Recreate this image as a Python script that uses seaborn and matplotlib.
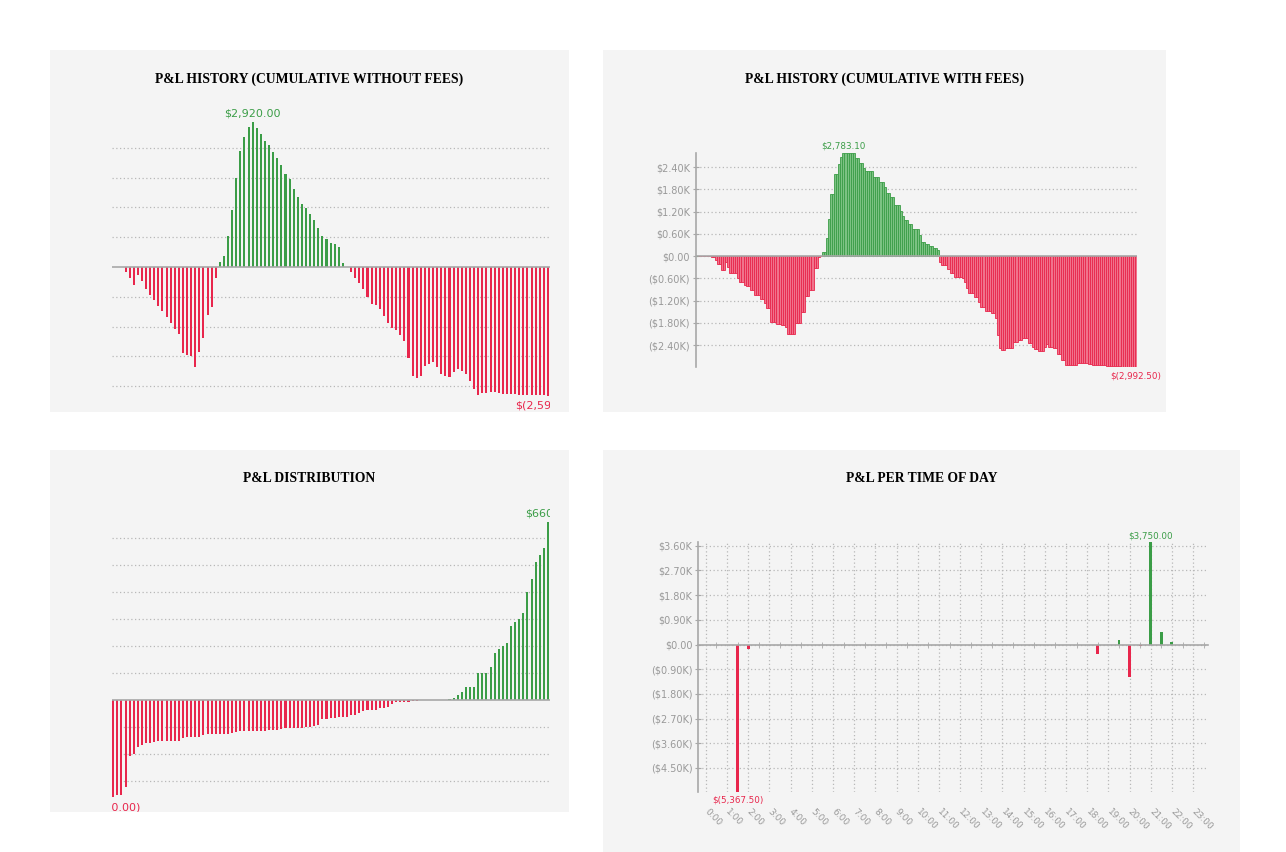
import numpy as np
import pandas as pd
import seaborn as sns
import matplotlib
matplotlib.use("Agg")
import matplotlib.pyplot as plt
from matplotlib.patches import Rectangle
from matplotlib.ticker import FuncFormatter

# cumulative P&L per trade, without fees
pnl_cum_no_fees = [
    0, 0, 0, -100, -215, -355, -155, -280, -435, -563, -670, -777, -891,
    -1012, -1119, -1240, -1353, -1722, -1769, -1802, -2010, -1715, -1427,
    -972, -797, -228,
    94, 221, 623, 1139, 1796, 2332, 2613, 2827, 2920, 2807, 2680, 2539,
    2466, 2318, 2198, 2057, 1883, 1782, 1575, 1414, 1273, 1179, 1059, 945,
    791, 623, 556, 489, 456, 402, 80,
    -5,
    -100, -215, -315, -449, -603, -750, -770, -851, -985, -1119, -1219,
    -1266, -1373, -1487, -1836, -2191, -2244, -2191, -2003, -1956, -1909,
    -2023, -2157, -2191, -2224, -2124, -2057, -2090, -2164, -2305, -2459,
    -2580, -2546, -2539, -2526, -2526, -2539, -2566, -2566, -2566, -2566,
    -2580, -2586, -2586, -2586, -2586, -2586, -2586, -2590,
]

# cumulative P&L per fill, with fees
pnl_cum_fees = [
    0, -2, -4, -4, -6, -8, -8, -25, -25, -117, -225, -225, -370, -370, -170,
    -297, -468, -468, -468, -468, -585, -693, -693, -783, -810, -810, -927,
    -927, -1044, -1044, -1044, -1161, -1161, -1269, -1413, -1413, -1773,
    -1773, -1773, -1845, -1845, -1872, -1872, -1908, -2097, -2097, -2097,
    -2097, -1800, -1800, -1800, -1521, -1521, -1071, -1071, -909, -909,
    -333, -333, -20, -10,
    99, 99, 495, 999, 1665, 1665, 2205, 2205, 2475, 2673,
    2783.1, 2783.1, 2783.1, 2783.1, 2783.1, 2783.1, 2637, 2637, 2502, 2502,
    2367, 2295, 2295, 2295, 2295, 2133, 2133, 2133, 2007, 2007, 1863, 1692,
    1692, 1584, 1584, 1377, 1377, 1377, 1215, 1080, 963, 963, 855, 855, 729,
    729, 729, 567, 387, 387, 315, 315, 261, 261, 216, 216, 153,
    -153, -243, -243, -243, -351, -459, -459, -567, -567, -567, -567, -603,
    -711, -855, -1008, -1008, -1008, -1107, -1107, -1233, -1377, -1377,
    -1485, -1485, -1485, -1548, -1548,
    -1665, -2133, -2475, -2538, -2538, -2493, -2493, -2493, -2493, -2313,
    -2313, -2268, -2268, -2223, -2223, -2223, -2358, -2358, -2466, -2511,
    -2511, -2556, -2556, -2556, -2448, -2385, -2448, -2448, -2493, -2493,
    -2655, -2655, -2808, -2808, -2934, -2934, -2934, -2934, -2934, -2934,
    -2889, -2889, -2889, -2889, -2889, -2907, -2907, -2943, -2943, -2943,
    -2943, -2943, -2943, -2943, -2961, -2965, -2968, -2970, -2972, -2975,
    -2978, -2980, -2982, -2984, -2986, -2988, -2990, -2991, -2992.5,
]

# single trade P&L, sorted
pnl_distribution = [
    -360, -351, -351, -321, -206, -201, -175, -166, -161, -160, -156, -151,
    -151, -151, -151, -151, -151, -141, -136, -136, -136, -136, -130, -126,
    -125, -125, -125, -125, -125, -121, -120, -116, -115, -115, -115, -115,
    -115, -115, -112, -110, -110, -106, -105, -105, -105, -105, -103, -101,
    -100, -98, -94, -72, -70, -66, -66, -64, -64, -62, -56, -56, -49, -40,
    -37, -37, -36, -31, -28, -26, -15, -9, -9, -9, -6, -4, -2, -1, -1,
    2, 2, 2, 2, 2, 5, 9, 19, 30, 48, 48, 48, 99, 99, 99, 124, 173, 189, 200,
    210, 274, 288, 300, 324, 400, 449, 512, 539, 565, 660,
]

# P&L per 30-minute slot of the day
tod_hours = [1.5, 2.0, 2.5, 18.5, 19.5, 20.0, 20.5, 21.0, 21.5, 22.0]
tod_pnl = [-5367.5, -150, -10, -350, 180, -1200, -70, 3750, 470, 90]
hour_labels = [f"{h}:00" for h in range(24)]

GREEN = "#3b9d47"
RED = "#e8264c"
GREEN_LIGHT = "#7cc283"
RED_LIGHT = "#f0738c"
BG = "#f4f4f4"
GRID = "#b8b8b8"
AXIS = "#a8a8a8"
TICKTXT = "#999999"

W, H = 1286, 852

sns.set_style("white")
plt.rcParams["font.family"] = ["DejaVu Sans"]

fig = plt.figure(figsize=(W / 100, H / 100), dpi=100)


def px_axes(x0, y0, x1, y1):
    ax = fig.add_axes([x0 / W, 1 - y1 / H, (x1 - x0) / W, (y1 - y0) / H])
    ax.set_facecolor("none")
    for s in ax.spines.values():
        s.set_visible(False)
    return ax


def panel_bg(x0, y0, x1, y1, title):
    fig.add_artist(Rectangle((x0 / W, 1 - y1 / H), (x1 - x0) / W, (y1 - y0) / H,
                             transform=fig.transFigure, facecolor=BG,
                             edgecolor="none", zorder=-1))
    fig.text((x0 + x1) / 2 / W, 1 - (y0 + 29) / H, title, ha="center",
             va="center", fontfamily="Liberation Serif", fontweight="bold",
             fontsize=9.8, color="black")


def money(v):
    return f"$({abs(v):,.2f})" if v < 0 else f"${v:,.2f}"


def kfmt(v, pos):
    if abs(v) < 1e-9:
        return "$0.00"
    return f"(${abs(v) / 1000:.2f}K)" if v < 0 else f"${v / 1000:.2f}K"


def bars(ax, xs, vals, width, pal):
    df = pd.DataFrame({"pos": xs, "pnl": vals})
    df["sign"] = np.where(df["pnl"] >= 0, "gain", "loss")
    sns.barplot(data=df, x="pos", y="pnl", hue="sign", palette=pal,
                dodge=False, width=width, errorbar=None, legend=False,
                native_scale=True, saturation=1, linewidth=0,
                edgecolor="none", ax=ax)
    ax.set_xlabel("")
    ax.set_ylabel("")


def label_extremes(ax, xs, vals, size, up, down, clip):
    i_max = int(np.argmax(vals))
    i_min = int(np.argmin(vals))
    ax.annotate(money(vals[i_max]), (xs[i_max], vals[i_max]), xytext=(0, up),
                textcoords="offset points", ha="center", va="bottom",
                color=GREEN, fontsize=size, annotation_clip=False, clip_on=clip)
    ax.annotate(money(vals[i_min]), (xs[i_min], vals[i_min]), xytext=(0, -down),
                textcoords="offset points", ha="center", va="top",
                color=RED, fontsize=size, annotation_clip=False, clip_on=clip)


def dotted_grid(ax, axis="y"):
    ax.grid(axis=axis, linestyle=(0, (1, 2)), color=GRID, linewidth=0.9)
    ax.set_axisbelow(True)


# ---- panel 1: cumulative without fees
panel_bg(50, 50, 569, 412, "P&L HISTORY (CUMULATIVE WITHOUT FEES)")
ax1 = px_axes(112, 105, 550, 412)
x1 = list(range(len(pnl_cum_no_fees)))
bars(ax1, x1, pnl_cum_no_fees, 0.5, {"gain": GREEN, "loss": RED})
ax1.set_xlim(-0.3, len(x1) - 0.5)
ax1.set_ylim(-2920, 3263)
ax1.set_xticks([])
ax1.set_yticks([-2400, -1800, -1200, -600, 600, 1200, 1800, 2400])
ax1.tick_params(axis="y", length=0, labelleft=False)
dotted_grid(ax1)
ax1.axhline(0, color=AXIS, lw=1.2, zorder=1)
label_extremes(ax1, x1, pnl_cum_no_fees, 8, 2.2, 3.6, True)

# ---- panel 2: cumulative with fees
panel_bg(603, 50, 1166, 412, "P&L HISTORY (CUMULATIVE WITH FEES)")
ax2 = px_axes(695.5, 153, 1137, 367)
x2 = list(range(len(pnl_cum_fees)))
bars(ax2, x2, pnl_cum_fees, 1.0, {"gain": GREEN_LIGHT, "loss": RED_LIGHT})
for p in ax2.patches:
    p.set_edgecolor(GREEN if p.get_height() >= 0 else RED)
    p.set_linewidth(0.6)
ax2.set_xlim(-0.8, len(x2) - 0.5)
ax2.set_ylim(min(pnl_cum_fees), max(pnl_cum_fees))
ax2.set_xticks([])
ax2.set_yticks([-2400, -1800, -1200, -600, 0, 600, 1200, 1800, 2400])
ax2.yaxis.set_major_formatter(FuncFormatter(kfmt))
ax2.spines["left"].set_visible(True)
ax2.spines["left"].set_color(AXIS)
ax2.spines["left"].set_linewidth(1.2)
ax2.tick_params(axis="y", direction="inout", length=4, color=AXIS,
                labelsize=7, labelcolor=TICKTXT, pad=2, left=True)
dotted_grid(ax2)
ax2.axhline(0, color=AXIS, lw=1.2, zorder=1)
label_extremes(ax2, x2, pnl_cum_fees, 6.3, 1.5, 3, False)

# ---- panel 3: distribution
panel_bg(50, 450, 569, 812, "P&L DISTRIBUTION")
ax3 = px_axes(112, 505, 550, 812)
x3 = list(range(len(pnl_distribution)))
bars(ax3, x3, pnl_distribution, 0.5, {"gain": GREEN, "loss": RED})
ax3.set_xlim(-0.3, len(x3) - 0.5)
ax3.set_ylim(-415, 723)
ax3.set_xticks([])
ax3.set_yticks([-300, -200, -100, 100, 200, 300, 400, 500, 600])
ax3.tick_params(axis="y", length=0, labelleft=False)
dotted_grid(ax3)
ax3.axhline(0, color=AXIS, lw=1.2, zorder=1)
label_extremes(ax3, x3, pnl_distribution, 8, 2.2, 3.6, True)

# ---- panel 4: per time of day
panel_bg(603, 450, 1240, 852, "P&L PER TIME OF DAY")
ax4 = px_axes(698, 541.7, 1208, 791.7)
bars(ax4, tod_hours, tod_pnl, 0.28, {"gain": GREEN, "loss": RED})
ax4.set_xlim(-0.37, 23.7)
ax4.set_ylim(min(tod_pnl), max(tod_pnl))
ax4.set_yticks([-4500, -3600, -2700, -1800, -900, 0, 900, 1800, 2700, 3600])
ax4.yaxis.set_major_formatter(FuncFormatter(kfmt))
ax4.spines["left"].set_visible(True)
ax4.spines["left"].set_color(AXIS)
ax4.spines["left"].set_linewidth(1.2)
ax4.tick_params(axis="y", direction="inout", length=4, color=AXIS,
                labelsize=7, labelcolor=TICKTXT, pad=2, left=True)
# zero line carries the half-hour ticks
ax4.spines["bottom"].set_visible(True)
ax4.spines["bottom"].set_position(("data", 0))
ax4.spines["bottom"].set_color(AXIS)
ax4.spines["bottom"].set_linewidth(1.2)
ax4.set_xticks(range(24))
ax4.set_xticks([h + 0.5 for h in range(24)], minor=True)
ax4.tick_params(axis="x", which="major", length=0, labelbottom=False)
ax4.tick_params(axis="x", which="minor", direction="inout", length=4,
                color=AXIS, bottom=True)
ax4.grid(axis="both", which="major", linestyle=(0, (1, 2)), color=GRID,
         linewidth=0.9)
ax4.set_axisbelow(True)
sec = ax4.secondary_xaxis("bottom")
sec.set_xticks(range(24), labels=hour_labels)
sec.tick_params(length=0, pad=13, labelsize=6.5, labelcolor=TICKTXT)
sec.spines["bottom"].set_visible(False)
for lab in sec.get_xticklabels():
    lab.set_rotation(-45)
    lab.set_rotation_mode("anchor")
    lab.set_ha("left")
    lab.set_va("center")
label_extremes(ax4, tod_hours, tod_pnl, 6.3, 1, 2.5, False)

fig.savefig("out.png", dpi=100, facecolor="white")
